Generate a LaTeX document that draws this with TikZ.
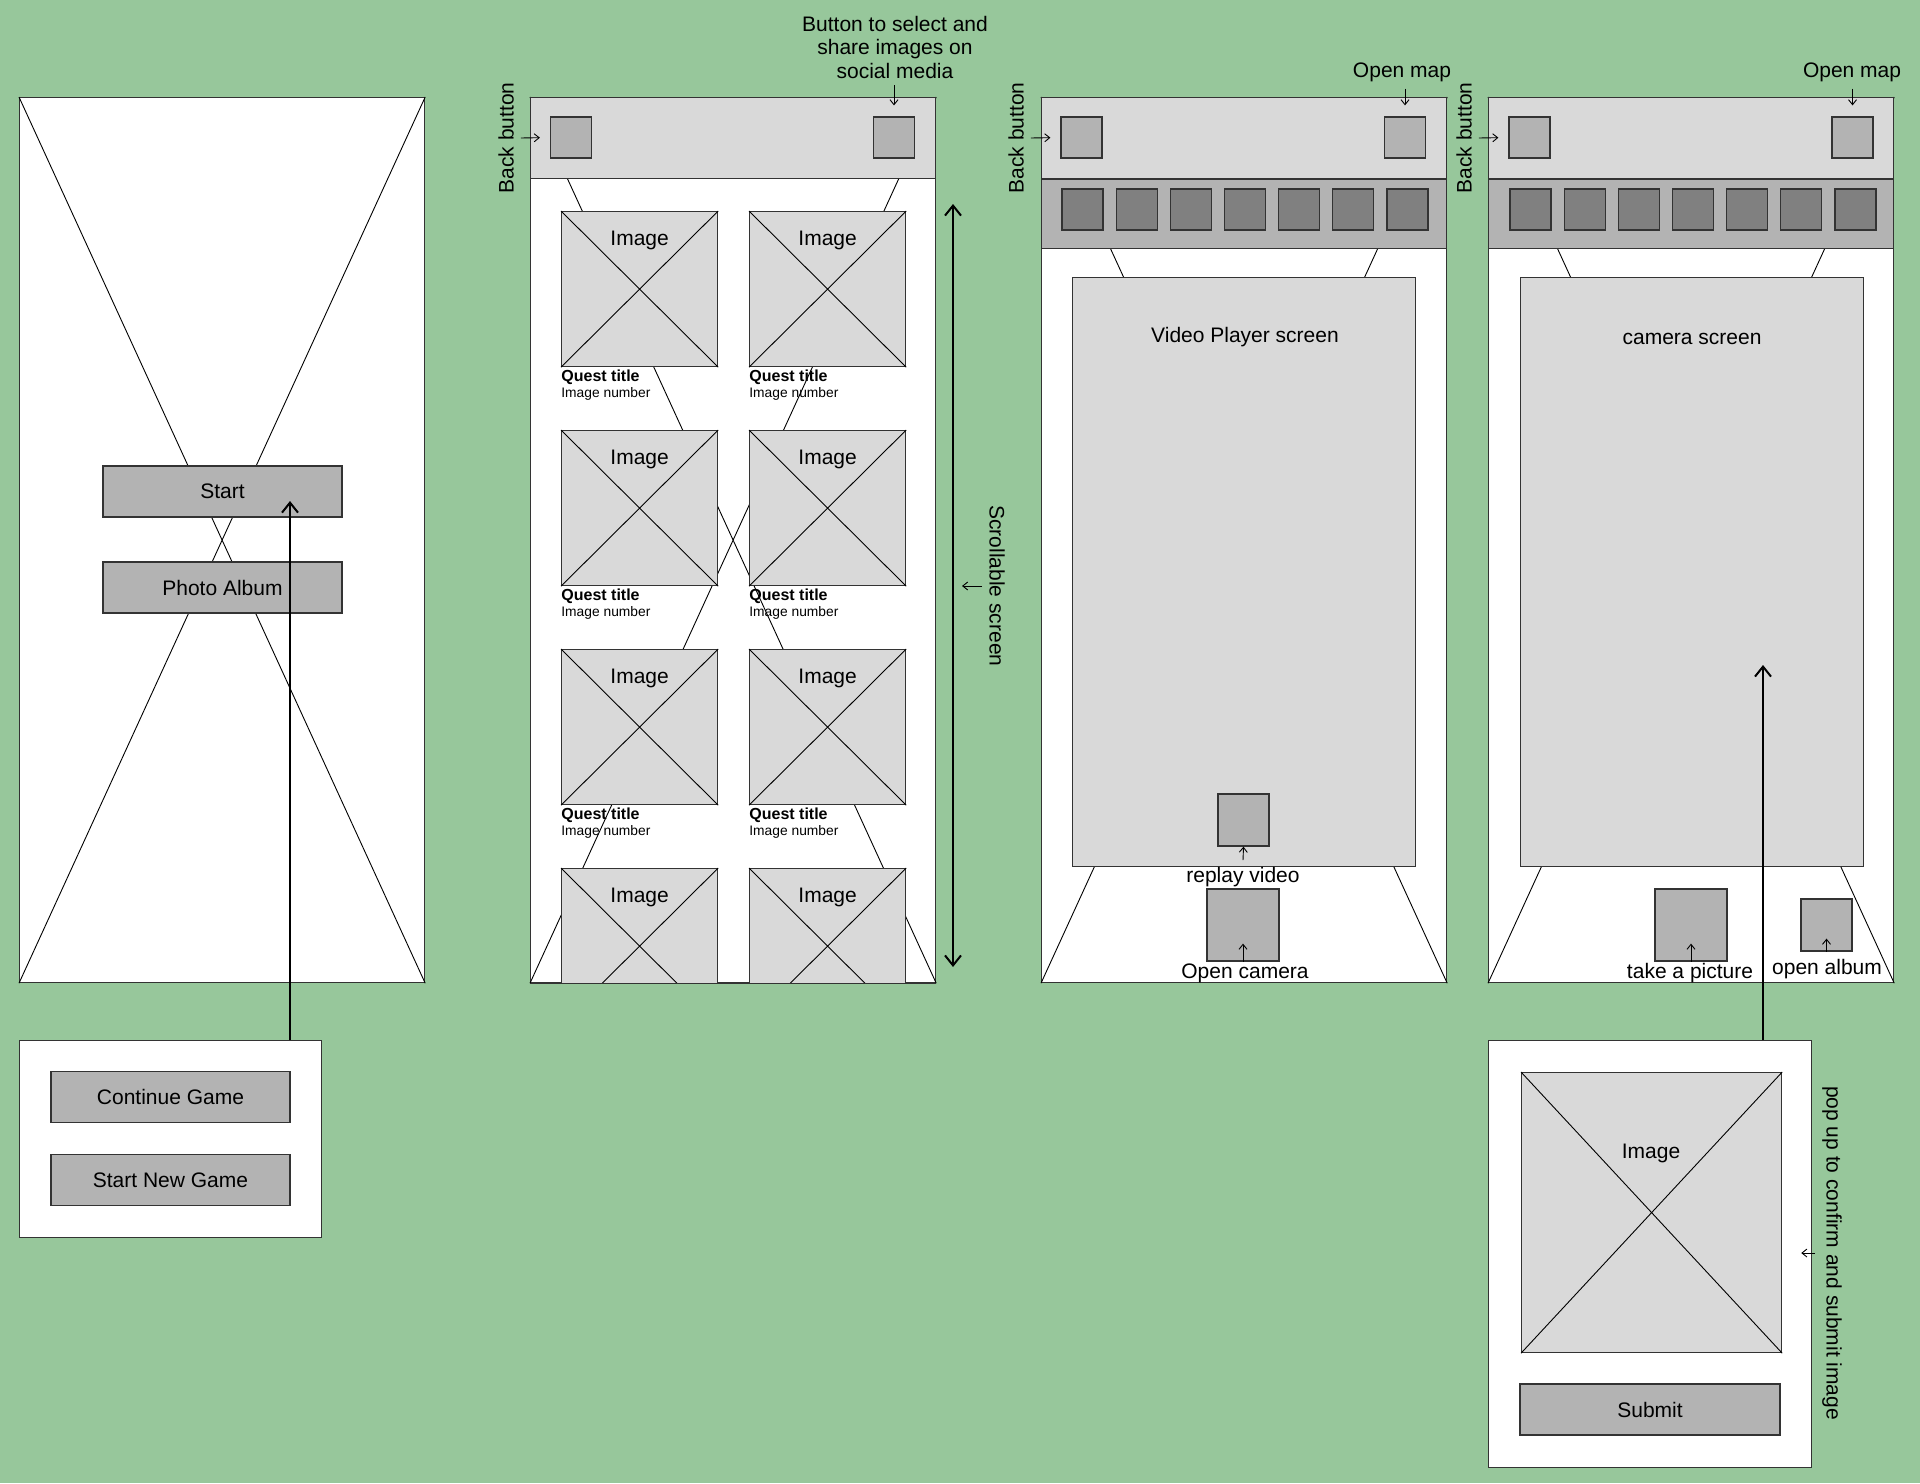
\documentclass[tikz,border=0pt]{standalone}
\usepackage{fontspec}
\setmainfont{Liberation Sans}
\usetikzlibrary{arrows.meta,positioning}
\definecolor{bggreen}{HTML}{97C79B}
\definecolor{panelgray}{HTML}{D9D9D9}
\definecolor{btngray}{HTML}{B3B3B3}
\definecolor{toolgray}{HTML}{808080}
\definecolor{edgegray}{HTML}{333333}

\begin{document}
\begin{tikzpicture}[
   x=0.5pt,y=-0.5pt,
   font=\fontsize{10.5}{11.75}\selectfont,
   screen/.style={draw=edgegray,fill=white,line width=0.6pt,anchor=north west,
                  inner sep=0,minimum width=202.5pt,minimum height=442.5pt},
   bar/.style={draw=edgegray,fill=panelgray,line width=0.6pt,anchor=north west,
               inner sep=0,minimum width=202.5pt,minimum height=40.5pt},
   toolbar/.style={bar,fill=btngray,minimum height=34.5pt},
   panelbox/.style={draw=edgegray,fill=panelgray,line width=0.6pt,anchor=north west,inner sep=0},
   btnbox/.style={draw=edgegray,fill=btngray,line width=0.6pt,inner sep=0,
                  minimum width=119.5pt,minimum height=25.5pt},
   icon/.style={draw=edgegray,fill=btngray,line width=0.6pt,inner sep=0,minimum size=20.5pt},
   tool/.style={icon,fill=toolgray},
   imgbox/.style={panelbox,minimum width=78pt,minimum height=77.5pt},
   cross/.style={line width=0.45pt},
   title/.style={font=\bfseries\fontsize{8}{9.5}\selectfont,anchor=west,inner sep=0},
   subtitle/.style={font=\fontsize{6.9}{8}\selectfont,anchor=west,inner sep=0},
   tinyarr/.style={-{Straight Barb[length=2.5pt,width=4pt]},line width=0.45pt},
   bigarr/.style={-{Straight Barb[length=5pt,width=8pt]},line width=1pt},
   dblarr/.style={{Straight Barb[length=5pt,width=8pt]}-{Straight Barb[length=5pt,width=8pt]},line width=1pt}
 ]
  \fill[bggreen] (0,0) rectangle (1920,1483);
  \useasboundingbox (0,0) rectangle (1920,1483);

  % home screen
  \node[screen] (home) at (19,97) {};
  \draw[cross] (home.north west) -- (home.south east) (home.north east) -- (home.south west);
  \node[btnbox] (start) at (222.5,491.5) {Start};
  \node[btnbox] (album) at (222.5,587.5) {Photo Album};

  % game pop up
  \node[screen,minimum width=151pt,minimum height=98.5pt] (game) at (19,1040) {};
  \node[btnbox] (cont) at (170.5,1097) {Continue Game};
  \node[btnbox] (newgame) at (170.5,1180) {Start New Game};
  \coordinate (starttip) at (290,501);
  \draw[bigarr] (starttip |- game.north) -- (starttip);

  % photo album screen
  \node[screen] (gallery) at (530,97) {};
  \draw[cross] (gallery.north west) -- (gallery.south east) (gallery.north east) -- (gallery.south west);
  \begin{scope}
    \clip (gallery.north west) rectangle (gallery.south east);
    \foreach \row in {0,...,3}
      \foreach \col/\x in {0/561,1/749} {
        \node[imgbox] (img\row\col) at (\x,{211+219*\row}) {};
        \draw[cross] (img\row\col.north west) -- (img\row\col.south east)
                     (img\row\col.north east) -- (img\row\col.south west);
        \node at ([yshift=-14.5pt]img\row\col.north) {Image};
        \node[title] at ([yshift=-5pt]img\row\col.south west) {Quest title};
        \node[subtitle] at ([yshift=-13.5pt]img\row\col.south west) {Image number};
      }
  \end{scope}
  \draw[draw=edgegray,line width=0.6pt] (gallery.south west) -- (gallery.south east);
  \node[bar] (gbar) at (gallery.north west) {};
  \node[icon] (gback) at (571,137.5) {};
  \node[icon] (gshare) at (894,137.5) {};
  \node[rotate=90] (gbacklbl) at (506,138) {Back button};
  \draw[tinyarr,shorten >=5pt] (gbacklbl.south) -- (gback.west);
  \node[align=center] (sharelbl) at (895,47) {Button to select and\\share images on\\social media};
  \draw[tinyarr,shorten >=5.5pt] (sharelbl.south -| gshare) -- (gshare.north);
  \coordinate (scrtop) at (953,204);
  \coordinate (scrbot) at (953,967);
  \draw[dblarr] (scrtop) -- (scrbot);
  \node[rotate=-90] (scrlbl) at (997,586) {Scrollable screen};
  \draw[tinyarr,shorten >=4.5pt] (scrlbl.south) -- (scrlbl.south -| scrtop);

  % video player screen
  \node[screen] (video) at (1041,97) {};
  \draw[cross] (video.north west) -- (video.south east) (video.north east) -- (video.south west);
  \node[bar] (vbar) at (video.north west) {};
  \node[toolbar] (vtools) at (vbar.south west) {};
  \foreach \i in {0,...,6}
    \node[tool] (vt\i) at ({1082.5+54.17*\i},209.5) {};
  \node[icon] (vback) at (1081.5,137.5) {};
  \node[icon] (vmap) at (1405,137.5) {};
  \node[rotate=90] (vbacklbl) at (1016,138) {Back button};
  \draw[tinyarr,shorten >=5pt] (vbacklbl.south) -- (vback.west);
  \node (vmaplbl) at (1402,72) {Open map};
  \draw[tinyarr,shorten >=5.5pt] (vmaplbl.south -| vmap) -- (vmap.north);
  \node[panelbox,minimum width=171.5pt,minimum height=294.5pt] (player) at (1072,277) {};
  \node (playerlbl) at (1245,337) {Video Player screen};
  \node[icon,minimum width=25.5pt,minimum height=26pt] (replay) at (1243.5,820) {};
  \node (replaylbl) at (1243,877) {replay video};
  \draw[tinyarr] (replaylbl.north) -- (replay.south);
  \node[icon,minimum size=36pt] (camera) at (1243,925) {};
  \node (cameralbl) at (1245,973) {Open camera};
  \draw[tinyarr] (camera.south) -- ([yshift=9pt]camera.south);

  % camera screen
  \node[screen] (cam) at (1488,97) {};
  \draw[cross] (cam.north west) -- (cam.south east) (cam.north east) -- (cam.south west);
  \node[bar] (cbar) at (cam.north west) {};
  \node[toolbar] (ctools) at (cbar.south west) {};
  \foreach \i in {0,...,6}
    \node[tool] (ct\i) at ({1530.5+54.17*\i},209.5) {};
  \node[icon] (cback) at (1529.5,137.5) {};
  \node[icon] (cmap) at (1852.5,137.5) {};
  \node[rotate=90] (cbacklbl) at (1464,138) {Back button};
  \draw[tinyarr,shorten >=5pt] (cbacklbl.south) -- (cback.west);
  \node (cmaplbl) at (1852,72) {Open map};
  \draw[tinyarr,shorten >=5.5pt] (cmaplbl.south -| cmap) -- (cmap.north);
  \node[panelbox,minimum width=171.5pt,minimum height=294.5pt] (viewfinder) at (1520,277) {};
  \node (viewlbl) at (1692,339) {camera screen};
  \node[icon,minimum size=36pt] (shoot) at (1691,925) {};
  \node (shootlbl) at (1690,973) {take a picture};
  \draw[tinyarr] (shoot.south) -- ([yshift=9pt]shoot.south);
  \node[icon,minimum width=25.5pt,minimum height=26pt] (openalb) at (1826.5,925) {};
  \node (openlbl) at (1827,969) {open album};
  \draw[tinyarr] (openalb.south) -- ([yshift=6.5pt]openalb.south);

  % confirm pop up
  \node[screen,minimum width=161.5pt,minimum height=213.5pt] (confirm) at (1488,1040) {};
  \node[panelbox,minimum width=130pt,minimum height=140pt] (preview) at (1521,1072) {};
  \draw[cross] (preview.north west) -- (preview.south east) (preview.north east) -- (preview.south west);
  \node (previewlbl) at (1651,1153) {Image};
  \node[btnbox,minimum width=130pt] (submit) at (1650,1409.5) {Submit};
  \node[rotate=-90] (confirmlbl) at (1832,1253) {pop up to confirm and submit image};
  \draw[tinyarr] (confirmlbl.south) -- ([xshift=-5.5pt]confirmlbl.south -| confirm.east);
  \coordinate (shoottip) at (1763,665);
  \draw[bigarr] (shoottip |- confirm.north) -- (shoottip);
 \end{tikzpicture}
\end{document}
